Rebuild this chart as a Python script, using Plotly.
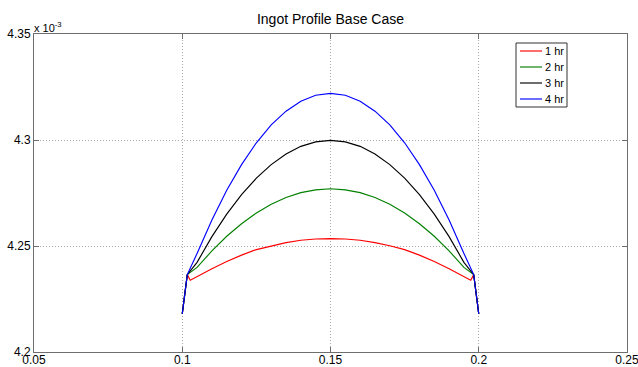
import plotly.graph_objects as go

# x positions (m) along the ingot
X_MAIN = [0.1, 0.1017, 0.105, 0.11, 0.115, 0.12, 0.125, 0.13, 0.135, 0.14, 0.145,
          0.15, 0.155, 0.16, 0.165, 0.17, 0.175, 0.18, 0.185, 0.19, 0.195, 0.1983, 0.2]
X_RED = [0.1, 0.1017, 0.1027, 0.105, 0.11, 0.115, 0.12, 0.125, 0.13, 0.135, 0.14, 0.145,
         0.15, 0.155, 0.16, 0.165, 0.17, 0.175, 0.18, 0.185, 0.19, 0.195, 0.1973, 0.1983, 0.2]

# profile values in units of 1e-3
Y_1HR = [4.218, 4.2365, 4.2338, 4.2356, 4.2393, 4.2427, 4.2457, 4.2483, 4.2501, 4.2516,
         4.2527, 4.2533, 4.2535, 4.2533, 4.2527, 4.2516, 4.2501, 4.2483, 4.2457, 4.2427,
         4.2393, 4.2356, 4.2338, 4.2365, 4.218]
Y_2HR = [4.218, 4.2365, 4.2399, 4.2477, 4.2546, 4.2605, 4.2656, 4.2697, 4.2729, 4.2752,
         4.2765, 4.2770, 4.2765, 4.2752, 4.2729, 4.2697, 4.2656, 4.2605, 4.2546, 4.2477,
         4.2399, 4.2365, 4.218]
Y_3HR = [4.218, 4.2365, 4.2423, 4.2544, 4.2650, 4.2742, 4.2820, 4.2884, 4.2934, 4.2970,
         4.2991, 4.2998, 4.2991, 4.2970, 4.2934, 4.2884, 4.2820, 4.2742, 4.2650, 4.2544,
         4.2423, 4.2365, 4.218]
Y_4HR = [4.218, 4.2365, 4.2465, 4.2623, 4.2763, 4.2884, 4.2987, 4.3071, 4.3136, 4.3183,
         4.3211, 4.3220, 4.3211, 4.3183, 4.3136, 4.3071, 4.2987, 4.2884, 4.2763, 4.2623,
         4.2465, 4.2365, 4.218]

SERIES_NAMES = ["1 hr", "2 hr", "3 hr", "4 hr"]
SERIES_X = [X_RED, X_MAIN, X_MAIN, X_MAIN]
SERIES_Y = [Y_1HR, Y_2HR, Y_3HR, Y_4HR]
SERIES_COLORS = ["#ff0000", "#008000", "#000000", "#0000ff"]

X_TICKS = [0.05, 0.1, 0.15, 0.2, 0.25]
X_TICKTEXT = ["0.05", "0.1", "0.15", "0.2", "0.25"]
Y_TICKS = [4.2, 4.25, 4.3, 4.35]
Y_TICKTEXT = ["4.2", "4.25", "4.3", "4.35"]

FONT = "Liberation Sans, Arial, Helvetica, sans-serif"
AXIS_COLOR = "#6e6e6e"

W, H = 638, 367
ML, MR, MT, MB = 34, 11, 34, 15
PW, PH = W - ML - MR, H - MT - MB


def px_x(px):
    return (px - ML) / PW


def px_y(py):
    return (H - MB - py) / PH


fig = go.Figure()
for name, xs, ys, color in zip(SERIES_NAMES, SERIES_X, SERIES_Y, SERIES_COLORS):
    fig.add_trace(go.Scatter(x=xs, y=ys, mode="lines", name=name, showlegend=False,
                             line=dict(color=color, width=1.15)))

common_axis = dict(showline=True, linecolor=AXIS_COLOR, linewidth=1, mirror="ticks",
                   ticks="inside", ticklen=5, tickcolor=AXIS_COLOR, tickwidth=1,
                   showgrid=True, gridcolor="#a8a8a8", griddash="1px,2px", gridwidth=1,
                   zeroline=False, automargin=False, ticklabeloverflow="allow",
                   tickfont=dict(size=12, color="#000", family=FONT))

fig.update_xaxes(range=[0.05, 0.2500001], tickvals=X_TICKS, ticktext=X_TICKTEXT,
                 ticklabelstandoff=-3, **common_axis)
fig.update_yaxes(range=[4.2, 4.3500001], tickvals=Y_TICKS, ticktext=Y_TICKTEXT, **common_axis)

# legend box drawn manually (MATLAB-style compact legend)
shapes = [dict(type="rect", xref="paper", yref="paper",
               x0=px_x(516), x1=px_x(567), y0=px_y(107), y1=px_y(43),
               line=dict(color="#333", width=1), fillcolor="rgba(0,0,0,0)", layer="below")]
annotations = [dict(text="x 10<sup>-3</sup>", xref="paper", yref="paper",
                    x=0, y=1, xanchor="left", yanchor="bottom", showarrow=False,
                    font=dict(size=11, color="#000", family=FONT), xshift=-2, yshift=-2)]
row_centers = [51, 67, 83, 99]
for name, color, ry in zip(SERIES_NAMES, SERIES_COLORS, row_centers):
    shapes.append(dict(type="line", xref="paper", yref="paper",
                       x0=px_x(520), x1=px_x(542), y0=px_y(ry), y1=px_y(ry),
                       line=dict(color=color, width=1.15), layer="above"))
    annotations.append(dict(text=name, xref="paper", yref="paper",
                            x=px_x(544), y=px_y(ry), xanchor="left", yanchor="middle",
                            showarrow=False, borderpad=0,
                            font=dict(size=11, color="#000", family=FONT)))

fig.update_layout(
    width=W, height=H,
    margin=dict(l=ML, r=MR, t=MT, b=MB),
    paper_bgcolor="white", plot_bgcolor="white",
    font=dict(family=FONT, size=12, color="#000"),
    title=dict(text="Ingot Profile Base Case", x=0.518, xanchor="center",
               y=1 - 19 / H, yanchor="middle", font=dict(size=14, color="#000", family=FONT)),
    showlegend=False,
    shapes=shapes,
    annotations=annotations,
)

fig.write_html("out.html")
